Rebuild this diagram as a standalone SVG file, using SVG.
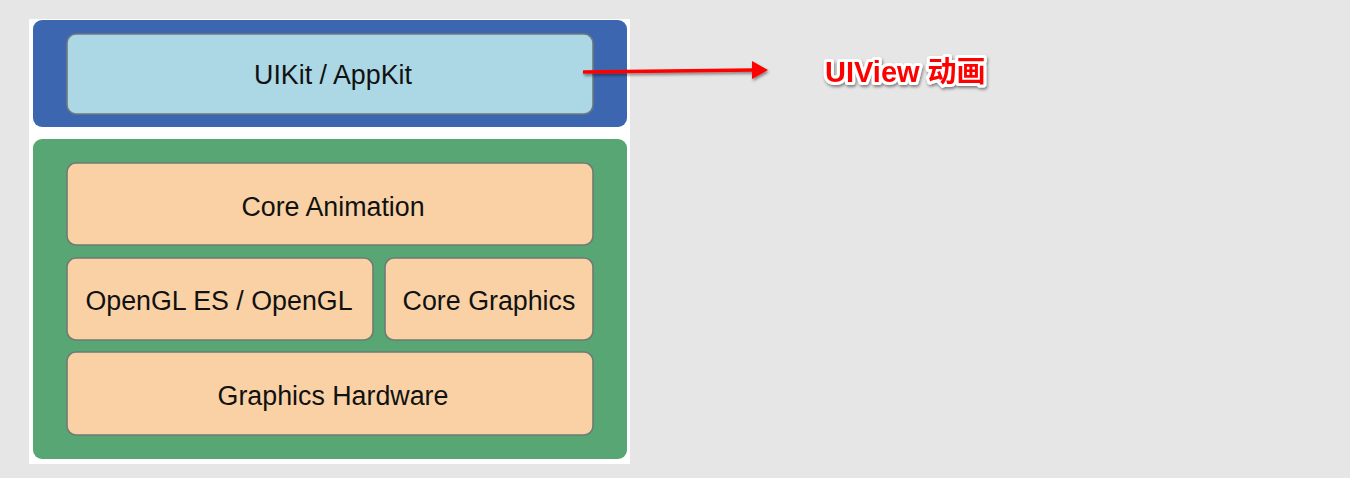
<svg xmlns="http://www.w3.org/2000/svg" width="1350" height="478" viewBox="0 0 1350 478">
<defs>
<style>
.lbl{font-family:"Liberation Sans",Arial,sans-serif;font-size:26.8px;fill:#111;text-anchor:middle;dominant-baseline:central}
.orange{fill:#fad1a5;stroke:#6f7b74;stroke-width:1.6}
</style>
<filter id="sh" x="-20%" y="-50%" width="140%" height="200%">
<feDropShadow dx="1" dy="2" stdDeviation="1.5" flood-color="#000" flood-opacity="0.45"/>
</filter>
</defs>
<rect width="1350" height="478" fill="#e6e6e6"/>
<rect x="29" y="19" width="601" height="445" fill="#ffffff"/>
<g id="appkit-layer">
<rect x="33" y="20" width="594" height="107" rx="9" fill="#3c67b0"/>
<g id="uikit">
<rect x="67" y="34" width="526" height="80" rx="9" fill="#acd8e6" stroke="#6b7a80" stroke-width="1.6"/>
<text class="lbl" x="333" y="75">UIKit / AppKit</text>
</g>
</g>
<g id="graphics-layer">
<rect x="33" y="139" width="594" height="320" rx="9" fill="#57a674"/>
<g id="core-animation">
<rect class="orange" x="67" y="163" width="526" height="82" rx="9"/>
<text class="lbl" x="333" y="207">Core Animation</text>
</g>
<g id="opengl">
<rect class="orange" x="67" y="258" width="306" height="82" rx="9"/>
<text class="lbl" x="219" y="301">OpenGL ES / OpenGL</text>
</g>
<g id="core-graphics">
<rect class="orange" x="385" y="258" width="208" height="82" rx="9"/>
<text class="lbl" x="489" y="301">Core Graphics</text>
</g>
<g id="hardware">
<rect class="orange" x="67" y="352" width="526" height="83" rx="9"/>
<text class="lbl" x="333" y="396">Graphics Hardware</text>
</g>
</g>
<g id="connectors" filter="url(#sh)">
<line x1="583" y1="72" x2="754" y2="70" stroke="#ff0000" stroke-width="3.5"/>
<polygon points="752,61 768,70 752,79" fill="#ff0000"/>
</g>
<g id="uiview-label">
<text x="825" y="72" font-family="Liberation Sans,'Noto Sans CJK SC',sans-serif" font-weight="bold" font-size="29" dominant-baseline="central" fill="#ff0000" stroke="#ffffff" stroke-width="6" stroke-linejoin="round" paint-order="stroke" filter="url(#sh)">UIView 动画</text>
</g>
</svg>
